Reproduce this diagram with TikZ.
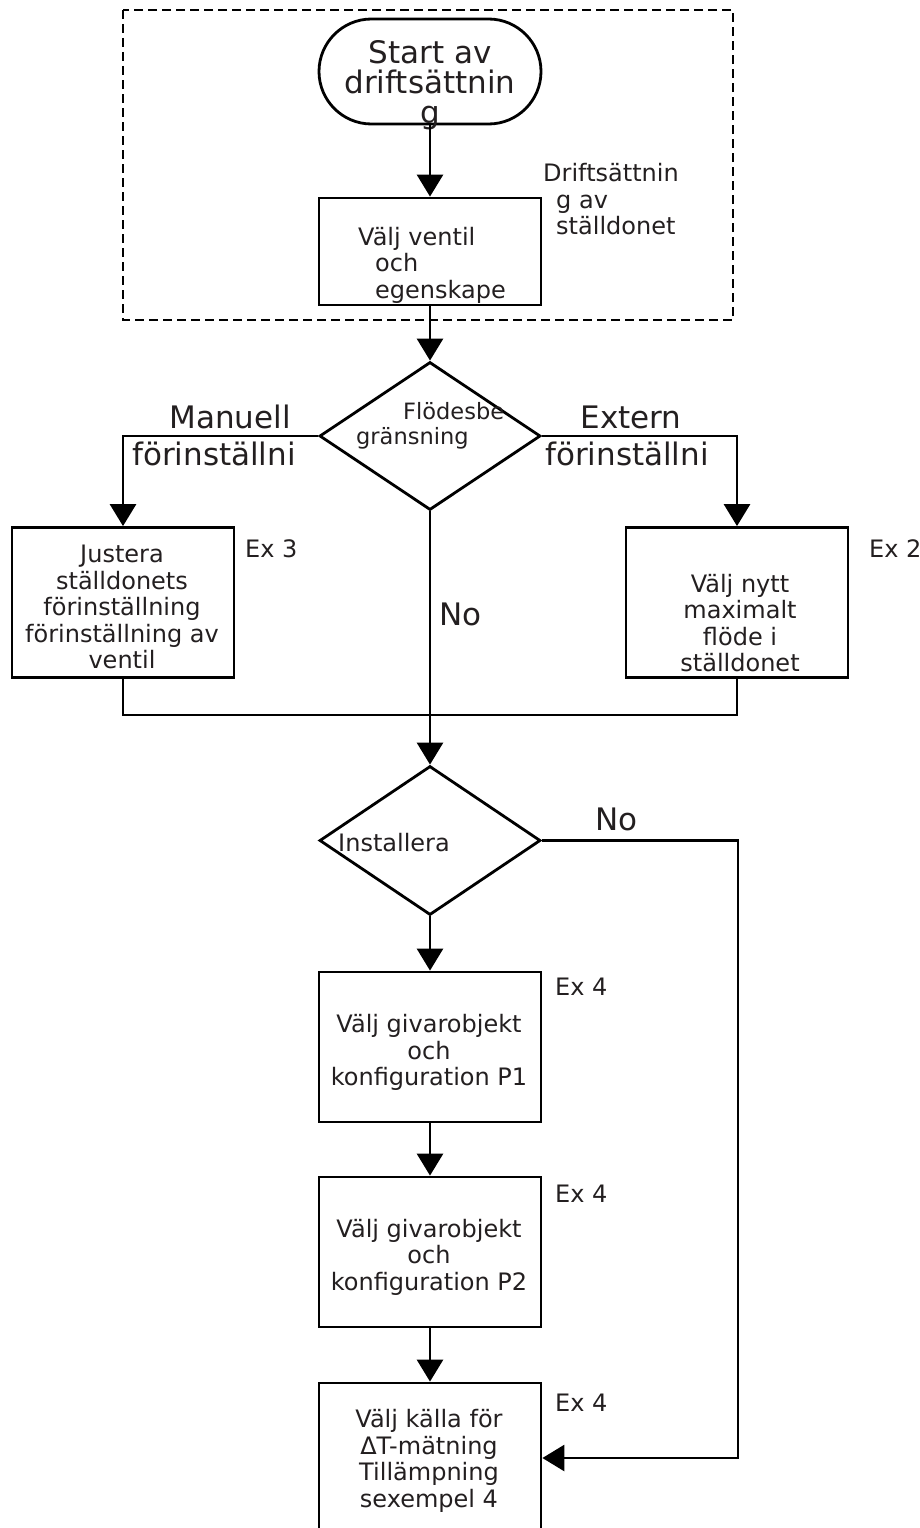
\documentclass[tikz,border=0pt]{standalone}
\usepackage{fontspec}
\setmainfont{DejaVu Sans}
\usepackage{xcolor}
\definecolor{ink}{RGB}{35,31,32}
\usepackage{tikz}
\usetikzlibrary{
    shapes.geometric,
    shapes.misc,
    arrows.meta,
    positioning,
    calc
}

\begin{document}
\begin{tikzpicture}[
        x=1pt, y=-1pt,
        box/.style={rectangle, draw, line width=2.8pt, minimum width=222pt, minimum height=150pt, inner sep=0pt},
        term/.style={rounded rectangle, draw, line width=2.8pt, minimum width=222pt, minimum height=105pt, inner sep=0pt},
        decision/.style={diamond, draw, line width=2.8pt, minimum width=221pt, minimum height=148pt, inner sep=0pt},
        txt/.style={inner sep=0pt, text=ink, font=\fontsize{24}{26.5}\selectfont},
        bigtxt/.style={inner sep=0pt, text=ink, font=\fontsize{31}{30}\selectfont},
        arrow/.style={-{Triangle[width=26pt,length=22pt]}, line width=2.8pt},
        line/.style={line width=2.8pt}
    ]
        \useasboundingbox (0,0) rectangle (920,1528);

        % commissioning frame
        \draw[line width=1.5pt, dash pattern=on 9pt off 5pt] (123,10) rectangle (733,320);

        \node[term] (start) at (430,71.5) {};
        \node[box, minimum height=107pt] (valj) at (430,251.5) {};
        \node[decision] (flode) at (430,436) {};
        \node[box] (justera) at (123,602.5) {};
        \node[box] (maxflode) at (737,602.5) {};
        \node[decision, minimum height=149pt] (install) at (430,840.5) {};
        \node[box] (givare1) at (430,1047) {};
        \node[box] (givare2) at (430,1252) {};
        \node[box] (kalla) at (430,1458) {};

        \coordinate (merge) at (430,715);
        \coordinate (ret) at (738,1458);

        % texts
        \node[bigtxt, align=center] (startt) at (430,85) {Start av\\driftsättnin\\g};
        \node[txt, align=left, anchor=west] (valjt) at (358,265) {Välj ventil\\\hspace*{17pt}och\\\hspace*{17pt}egenskape};
        \node[txt, align=left, anchor=west] (driftt) at (543,199.5) {Driftsättnin\\\hspace*{13pt}g av\\\hspace*{13pt}ställdonet};
        \node[txt, align=left, anchor=west, font=\fontsize{22.5}{25}\selectfont] (flodet) at (356,426) {\hspace*{47pt}Flödesbe\\gränsning};
        \node[bigtxt, anchor=base] (manuell) at (230,428) {Manuell};
        \node[bigtxt, anchor=base] (manuell2) at (214,465) {förinställni};
        \node[bigtxt, anchor=base] (extern) at (631,428) {Extern};
        \node[bigtxt, anchor=base] (extern2) at (627,465) {förinställni};
        \node[txt, align=center] (justerat) at (122,607) {Justera\\ställdonets\\förinställning\\förinställning av\\ventil};
        \node[txt, anchor=base west] (ex3) at (245,557) {Ex 3};
        \node[txt, align=center] (maxflodet) at (740,623) {Välj nytt\\maximalt\\flöde i\\ställdonet};
        \node[txt, anchor=base west] (ex2) at (869,557) {Ex 2};
        \node[bigtxt, anchor=base west] (no1) at (439,625) {No};
        \node[txt, anchor=west] (installt) at (338,843) {Installera};
        \node[bigtxt, anchor=base west] (no2) at (595,830) {No};
        \node[txt, align=center] (givare1t) at (429,1052.5) {Välj givarobjekt\\och\\konfiguration P1};
        \node[txt, anchor=base west] (ex4a) at (555,995) {Ex 4};
        \node[txt, align=center] (givare2t) at (429,1257) {Välj givarobjekt\\och\\konfiguration P2};
        \node[txt, anchor=base west] (ex4b) at (555,1202) {Ex 4};
        \node[txt, align=center] (kallat) at (429,1461) {Välj källa för\\ΔT-mätning\\Tillämpning\\sexempel 4};
        \node[txt, anchor=base west] (ex4c) at (555,1411) {Ex 4};

        % connectors
        \draw[arrow] (start) -- (valj);
        \draw[arrow] (valj) -- (flode);
        \draw[arrow] (flode.west) -| (justera.north);
        \draw[arrow] (flode.east) -| (maxflode.north);
        \draw[line] (justera.south) |- (merge) -| (maxflode.south);
        \draw[arrow] (flode.south) -- (install.north);
        \draw[arrow] (install.east) -| (ret) -- (kalla.east);
        \draw[arrow] (install.south) -- (givare1.north);
        \draw[arrow] (givare1) -- (givare2);
        \draw[arrow] (givare2) -- (kalla);
    \end{tikzpicture}
\end{document}
